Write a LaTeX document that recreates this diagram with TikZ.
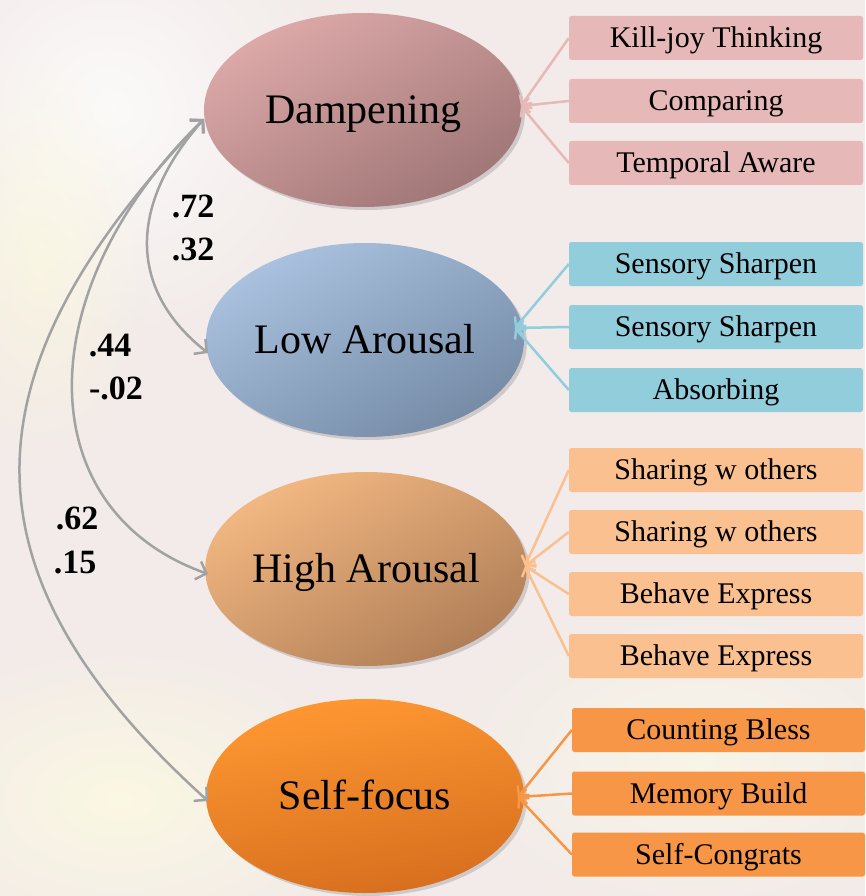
\documentclass[tikz,border=0pt]{standalone}
\usepackage{fontspec}
\setmainfont{Liberation Serif}
\usetikzlibrary{shapes.geometric,arrows.meta,shadows,fadings}
\tikzfading[name=softglow, inner color=transparent!0, outer color=transparent!100]
\definecolor{bgc}{HTML}{F2EBE9}
\definecolor{dampA}{HTML}{DDA9A9}
\definecolor{dampB}{HTML}{A07676}
\definecolor{lowA}{HTML}{AAC2DF}
\definecolor{lowB}{HTML}{758BA6}
\definecolor{highA}{HTML}{F3B882}
\definecolor{highB}{HTML}{B07E57}
\definecolor{selfA}{HTML}{FF9832}
\definecolor{selfB}{HTML}{D66E1E}
\definecolor{dampBox}{HTML}{E6B8B7}
\definecolor{lowBox}{HTML}{92CDDC}
\definecolor{highBox}{HTML}{FAC090}
\definecolor{selfBox}{HTML}{F79646}
\definecolor{curveGray}{HTML}{A2A2A2}
\tikzset{
  latent/.style={ellipse, minimum width=318pt, minimum height=194pt, inner sep=0pt,
    font=\fontsize{42}{46}\selectfont, text=black, text height=27.5pt, text depth=0pt,
    drop shadow={opacity=0.3, shadow xshift=3pt, shadow yshift=-3pt}},
  itembox/.style={rectangle, rounded corners=2.5pt, minimum width=294pt, minimum height=44pt,
    inner sep=0pt, font=\fontsize{30}{32}\selectfont, text=black, text height=19.5pt, text depth=0pt},
  loadline/.style={line width=2.5pt, -{Straight Barb[length=7pt,width=15pt,line width=2.5pt]}},
  corr/.style={curveGray, line width=2.5pt,
    {Straight Barb[length=9pt,width=19pt,line width=2.5pt]}-{Straight Barb[length=9pt,width=19pt,line width=2.5pt]}},
  coef/.style={font=\bfseries\fontsize{34}{36}\selectfont, text=black, inner sep=0pt,
    text height=23pt, text depth=0pt}
}
\begin{document}
\begin{tikzpicture}[x=1pt,y=-1pt]
\useasboundingbox (0,0) rectangle (865,896);
% background
\fill[bgc] (0,0) rectangle (865,896);
\fill[white, path fading=softglow, opacity=0.75] (110,110) ellipse (230 and 230);
\fill[yellow!15!white, path fading=softglow, opacity=0.5] (40,260) ellipse (110 and 200);
\fill[yellow!12!white, path fading=softglow, opacity=0.7] (120,800) ellipse (260 and 160);
\fill[yellow!10!white, path fading=softglow, opacity=0.5] (700,760) ellipse (260 and 160);

% latent ellipses
\node[latent, shading=axis, top color=dampA, bottom color=dampB, shading angle=30] (damp) at (363,110) {Dampening};
\node[latent, shading=axis, top color=lowA, bottom color=lowB, shading angle=30] (low) at (365,340) {Low Arousal};
\node[latent, shading=axis, top color=highA, bottom color=highB, shading angle=30] (high) at (366,569) {High Arousal};
\node[latent, shading=axis, top color=selfA, bottom color=selfB, shading angle=10] (self) at (365,796) {Self-focus};

% item boxes
\node[itembox, fill=dampBox] (d1) at (716,38) {Kill-joy Thinking};
\node[itembox, fill=dampBox] (d2) at (716,101) {Comparing};
\node[itembox, fill=dampBox] (d3) at (716,163) {Temporal Aware};

\node[itembox, fill=lowBox] (l1) at (716,264) {Sensory Sharpen};
\node[itembox, fill=lowBox] (l2) at (716,327) {Sensory Sharpen};
\node[itembox, fill=lowBox] (l3) at (716,390) {Absorbing};

\node[itembox, fill=highBox] (h1) at (716,470) {Sharing w others};
\node[itembox, fill=highBox] (h2) at (716,532) {Sharing w others};
\node[itembox, fill=highBox] (h3) at (716,594) {Behave Express};
\node[itembox, fill=highBox] (h4) at (716,656) {Behave Express};

\node[itembox, fill=selfBox, minimum width=293pt] (s1) at (718.5,730) {Counting Bless};
\node[itembox, fill=selfBox, minimum width=293pt] (s2) at (718.5,793.5) {Memory Build};
\node[itembox, fill=selfBox, minimum width=293pt] (s3) at (718.5,854.5) {Self-Congrats};

% tip coordinates
\coordinate (dTipR) at (521,106);
\coordinate (lTipR) at (515,328);
\coordinate (hTipR) at (525,566);
\coordinate (sTipR) at (518,797);

% loading connectors
\foreach \b in {d1,d2,d3} \draw[loadline, dampBox] (\b.west) -- (dTipR);
\foreach \b in {l1,l2,l3} \draw[loadline, lowBox] (\b.west) -- (lTipR);
\foreach \b in {h1,h2,h3,h4} \draw[loadline, highBox] (\b.west) -- (hTipR);
\foreach \b in {s1,s2,s3} \draw[loadline, selfBox] (\b.west) -- (sTipR);

% correlation curves
\coordinate (dTipL) at (204,119);
\coordinate (lTipL) at (208,353);
\coordinate (hTipL) at (208,574);
\coordinate (sTipL) at (208,801);
\draw[corr] (dTipL) .. controls (128,205) and (128,290) .. (lTipL);
\draw[corr] (dTipL) .. controls (28,290) and (28,510) .. (hTipL);
\draw[corr] (dTipL) .. controls (-42,375) and (-42,575) .. (sTipL);

% coefficients
\node[coef] (c1a) at (193,206) {.72};
\node[coef] (c1b) at (193,249) {.32};
\node[coef] (c2a) at (110,345) {.44};
\node[coef] (c2b) at (116,388) {-.02};
\node[coef] (c3a) at (77,518) {.62};
\node[coef] (c3b) at (75,562) {.15};
\end{tikzpicture}
\end{document}
